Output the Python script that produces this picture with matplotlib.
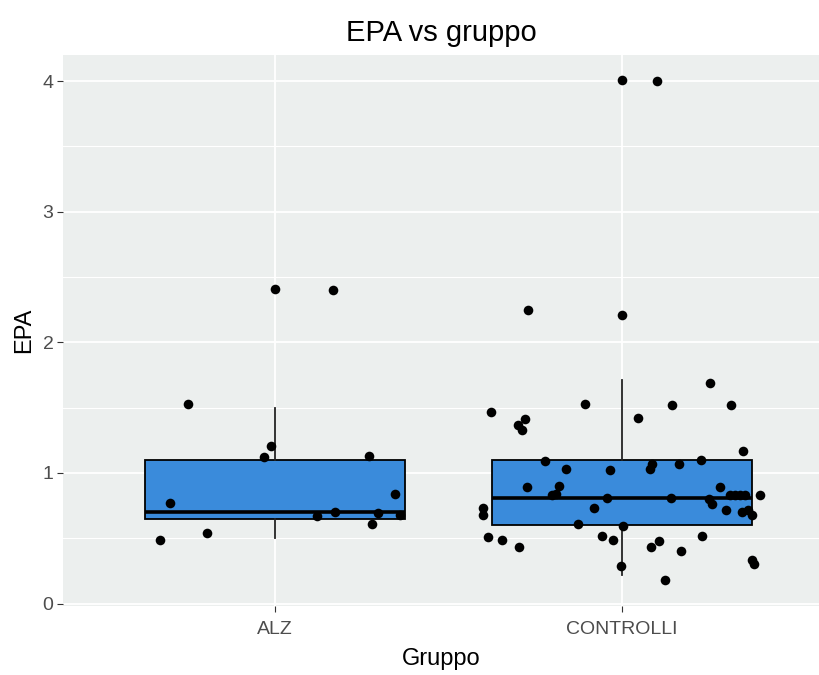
import matplotlib
matplotlib.use("Agg")
import matplotlib.pyplot as plt
import numpy as np

plt.rcParams["font.family"] = ["Liberation Sans", "DejaVu Sans"]

GROUPS = ["ALZ", "CONTROLLI"]

# box statistics
BOX_Q1 = [0.65, 0.60]
BOX_MED = [0.70, 0.81]
BOX_Q3 = [1.10, 1.10]
WHIS_LO = [0.50, 0.22]
WHIS_HI = [1.50, 1.71]

# jittered points (x = jittered group position, y = EPA)
ALZ_X = [1.000, 1.167, 0.749, 0.988, 0.968, 1.271, 1.346, 0.697, 1.121,
         1.173, 1.297, 1.280, 1.360, 0.804, 0.669]
ALZ_Y = [2.41, 2.40, 1.53, 1.21, 1.12, 1.13, 0.84, 0.77, 0.67,
         0.70, 0.69, 0.61, 0.68, 0.54, 0.49]

CTRL_X = [1.730, 2.001, 2.252, 1.622, 1.893, 2.145, 2.313, 2.047, 1.720,
          1.701, 1.711, 2.348, 1.778, 1.838, 1.965, 2.079, 2.087, 2.164,
          2.227, 1.725, 1.818, 1.809, 1.797, 2.282, 2.311, 2.326, 2.340,
          2.354, 2.396, 1.956, 2.140, 2.249, 2.258, 2.299, 1.919, 1.600,
          1.600, 2.345, 2.364, 2.374, 1.874, 2.002, 1.613, 1.653, 1.941,
          1.975, 2.231, 1.704, 2.083, 2.107, 2.170, 1.996, 2.374, 2.380,
          2.124, 2.000, 2.101]
CTRL_Y = [2.25, 2.21, 1.69, 1.47, 1.53, 1.52, 1.52, 1.42, 1.41,
          1.37, 1.33, 1.17, 1.09, 1.03, 1.02, 1.03, 1.07, 1.07,
          1.10, 0.89, 0.90, 0.84, 0.83, 0.89, 0.83, 0.83, 0.83,
          0.83, 0.83, 0.81, 0.81, 0.80, 0.76, 0.72, 0.73, 0.73,
          0.68, 0.70, 0.72, 0.68, 0.61, 0.59, 0.51, 0.49, 0.52,
          0.49, 0.52, 0.43, 0.43, 0.48, 0.40, 0.29, 0.33, 0.30,
          0.18, 4.01, 4.00]

BOX_COLOR = "#3A8BDB"
PANEL = "#ECEFEE"

fig = plt.figure(figsize=(8.2, 6.75), dpi=100)
ax = fig.add_axes([0.077, 0.102, 0.923, 0.8165])
ax.set_facecolor(PANEL)

stats = []
for i, g in enumerate(GROUPS):
    stats.append({"label": g, "q1": BOX_Q1[i], "med": BOX_MED[i], "q3": BOX_Q3[i],
                  "whislo": WHIS_LO[i], "whishi": WHIS_HI[i], "fliers": []})
ax.bxp(stats, positions=[1, 2], widths=0.75, patch_artist=True,
       showcaps=False, showfliers=False,
       boxprops=dict(facecolor=BOX_COLOR, edgecolor="black", linewidth=1.3),
       whiskerprops=dict(color="#222222", linewidth=1.3),
       medianprops=dict(color="black", linewidth=2.6), zorder=3)

ax.scatter(ALZ_X, ALZ_Y, s=48, color="black", zorder=4, linewidths=0)
ax.scatter(CTRL_X, CTRL_Y, s=48, color="black", zorder=4, linewidths=0)

ax.set_xlim(0.39, 2.57)
ax.set_ylim(-0.02, 4.20)
ax.set_xticks([1, 2], labels=GROUPS)
ax.set_yticks([0, 1, 2, 3, 4])
ax.set_yticks([0.5, 1.5, 2.5, 3.5], minor=True)
ax.grid(True, which="major", color="white", linewidth=1.3)
ax.grid(True, which="minor", axis="y", color="white", linewidth=0.8)
ax.set_axisbelow(True)
for s in ax.spines.values():
    s.set_visible(False)
ax.tick_params(which="major", length=4, color="#333333", labelcolor="#4D4D4D",
               labelsize=14, pad=3)
ax.tick_params(axis="x", which="major", pad=7)
ax.tick_params(which="minor", length=0)

ax.set_xlabel("Gruppo", fontsize=17, labelpad=7)
ax.set_ylabel("EPA", fontsize=17, labelpad=5)
ax.set_title("EPA vs gruppo", fontsize=21, pad=10)

fig.savefig("out.png", dpi=100)
